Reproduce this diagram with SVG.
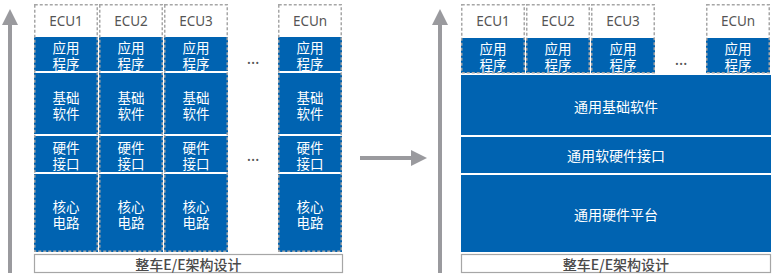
<svg xmlns="http://www.w3.org/2000/svg" width="773" height="277" viewBox="0 0 773 277">
<style>
.blue{fill:#0063b1}
.dash{fill:none;stroke:#a6a6a6;stroke-width:1.5;stroke-dasharray:3 2}
.box{fill:#fff;stroke:#a6a6a6;stroke-width:1.2}
.arr{fill:#9a9a9e}
.ecu{font-family:"Noto Sans","Noto Sans CJK SC",sans-serif;font-size:13.5px;fill:#555;text-anchor:middle;dominant-baseline:central}
.t{font-family:"Noto Sans CJK SC","Noto Sans",sans-serif;font-size:13.5px;fill:#fff;text-anchor:middle;dominant-baseline:central}
.b{font-family:"Noto Sans CJK SC","Noto Sans",sans-serif;font-size:14px;fill:#4a4a4a;text-anchor:middle;dominant-baseline:central;font-weight:500}
.dots{font-family:"Noto Sans",sans-serif;font-size:16px;fill:#555;text-anchor:middle;dominant-baseline:central}
</style>
<defs>
<g id="colL">
<rect class="blue" x="0" y="37" width="64" height="34"/>
<rect class="blue" x="0" y="73" width="64" height="61"/>
<rect class="blue" x="0" y="136" width="64" height="36"/>
<rect class="blue" x="0" y="174" width="64" height="78"/>
<rect class="dash" x="0.75" y="4.75" width="62.5" height="246.5"/>
<text class="t" x="32" y="47">应用</text>
<text class="t" x="32" y="63">程序</text>
<text class="t" x="32" y="97">基础</text>
<text class="t" x="32" y="113">软件</text>
<text class="t" x="32" y="147">硬件</text>
<text class="t" x="32" y="163">接口</text>
<text class="t" x="32" y="206">核心</text>
<text class="t" x="32" y="222">电路</text>
</g>
<g id="colR">
<rect class="blue" x="0" y="38" width="64" height="35"/>
<rect class="dash" x="0.75" y="4.75" width="62.5" height="68"/>
<text class="t" x="32" y="48">应用</text>
<text class="t" x="32" y="64">程序</text>
</g>
</defs>
<g id="connectors">
<rect class="arr" x="8" y="24" width="4" height="249"/>
<polygon class="arr" points="2,25 10,9 18,25"/>
<rect class="arr" x="438" y="24" width="4" height="249"/>
<polygon class="arr" points="432,25 440,9 448,25"/>
<rect class="arr" x="360" y="156" width="53" height="4"/>
<polygon class="arr" points="411,150 427,158 411,166"/>
</g>
<g id="left">
<g id="ecu1-l"><use href="#colL" x="34" y="0"/><text class="ecu" x="66" y="21">ECU1</text></g>
<g id="ecu2-l"><use href="#colL" x="99" y="0"/><text class="ecu" x="131" y="21">ECU2</text></g>
<g id="ecu3-l"><use href="#colL" x="164" y="0"/><text class="ecu" x="196" y="21">ECU3</text></g>
<g id="ecun-l"><use href="#colL" x="278" y="0"/><text class="ecu" x="310" y="21">ECUn</text></g>
<text class="dots" x="253" y="58">…</text>
<text class="dots" x="253" y="155">…</text>
<g id="ee-l"><rect class="box" x="34.5" y="254.5" width="308" height="18"/><text class="b" x="188.5" y="264">整车E/E架构设计</text></g>
</g>
<g id="right">
<g id="ecu1-r"><use href="#colR" x="461" y="0"/><text class="ecu" x="493" y="21">ECU1</text></g>
<g id="ecu2-r"><use href="#colR" x="526" y="0"/><text class="ecu" x="558" y="21">ECU2</text></g>
<g id="ecu3-r"><use href="#colR" x="591" y="0"/><text class="ecu" x="623" y="21">ECU3</text></g>
<g id="ecun-r"><use href="#colR" x="706" y="0"/><text class="ecu" x="738" y="21">ECUn</text></g>
<text class="dots" x="681" y="59">…</text>
<g id="base-r"><rect class="blue" x="461" y="75" width="310" height="60"/><text class="t" x="616" y="106" style="font-size:14px">通用基础软件</text></g>
<g id="iface-r"><rect class="blue" x="461" y="137" width="310" height="36"/><text class="t" x="616" y="155" style="font-size:14px">通用软硬件接口</text></g>
<g id="hw-r"><rect class="blue" x="461" y="175" width="310" height="77"/><text class="t" x="616" y="214" style="font-size:14px">通用硬件平台</text></g>
<g id="ee-r"><rect class="box" x="461.5" y="254.5" width="309" height="18"/><text class="b" x="616" y="264">整车E/E架构设计</text></g>
</g>
</svg>
